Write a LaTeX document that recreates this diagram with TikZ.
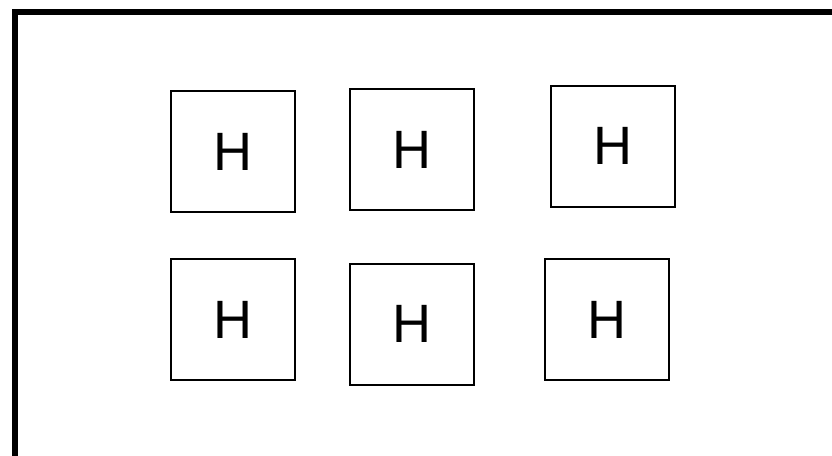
\documentclass[tikz,border=0pt]{standalone}
\usepackage{fontspec}
\setmainfont{Liberation Sans}

\begin{document}
\begin{tikzpicture}[
  x=1pt,y=-1pt,
  hbox/.style={draw,line width=2pt,minimum width=124pt,minimum height=121pt,
               inner sep=0pt,font=\fontsize{54}{54}\selectfont},
  frame/.style={line width=5.5pt},
]
  \useasboundingbox (0,0) rectangle (832,455);

  % --- outer frame (right and bottom run off the page) ---
  \draw[frame] (14.8,11.8) rectangle (850,470);

  % --- top row ---
  \node[hbox] (h1) at (232.5,151.5) {H};
  \node[hbox] (h2) at (411.5,149.5) {H};
  \node[hbox] (h3) at (612.5,146.0) {H};

  % --- bottom row ---
  \node[hbox] (h4) at (232.5,319.5) {H};
  \node[hbox] (h5) at (411.5,324.0) {H};
  \node[hbox] (h6) at (606.5,319.5) {H};

\end{tikzpicture}
\end{document}
